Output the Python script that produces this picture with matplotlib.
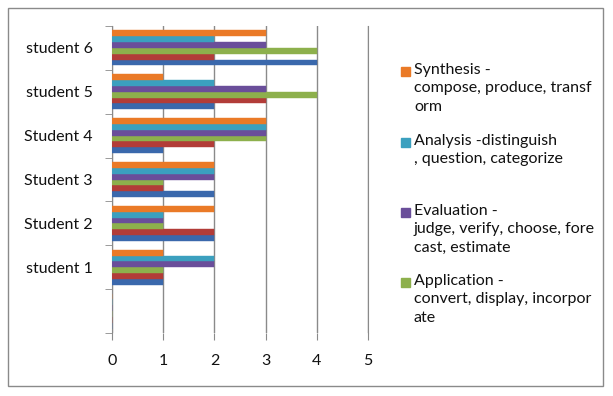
import matplotlib
matplotlib.use("Agg")
import matplotlib.pyplot as plt
from matplotlib.patches import Rectangle
import numpy as np

plt.rcParams['font.family'] = ['Lato', 'DejaVu Sans']

categories = ["", "student 1", "Student 2", "Student 3", "Student 4", "student 5", "student 6"]
series_names = ["Knowledge", "Comprehension", "Application", "Evaluation", "Analysis", "Synthesis"]
blue_vals   = [0, 1, 2, 2, 1, 2, 4]
red_vals    = [0, 1, 2, 1, 2, 3, 2]
green_vals  = [0, 1, 1, 1, 3, 4, 4]
purple_vals = [0, 2, 1, 2, 3, 3, 3]
teal_vals   = [0, 2, 1, 2, 3, 2, 2]
orange_vals = [0, 1, 2, 2, 3, 1, 3]
x_ticks = [0, 1, 2, 3, 4, 5]

legend_labels = [
    "Synthesis -\ncompose, produce, transf\norm",
    "Analysis -distinguish\n, question, categorize",
    "Evaluation -\njudge, verify, choose, fore\ncast, estimate",
    "Application -\nconvert, display, incorpor\nate",
]
legend_colors = ["#EA7A27", "#3BA0BF", "#6A4E9A", "#8DB04C"]

series = [blue_vals, red_vals, green_vals, purple_vals, teal_vals, orange_vals]
colors = ["#3A68AC", "#B23C38", "#8DB04C", "#6A4E9A", "#3BA0BF", "#EA7A27"]

fig = plt.figure(figsize=(6.13, 3.96), dpi=100)
fig.patch.set_facecolor("white")
fig.add_artist(Rectangle((8/613, 1-386/396), 595/613, 378/396, transform=fig.transFigure,
                         fill=False, edgecolor="#8a8a8a", linewidth=1))

ax = fig.add_axes([112/613, 1-333/396, 256/613, 307/396])
y = np.arange(len(categories))
h = 0.133
n = len(series)
for i, (vals, c) in enumerate(zip(series, colors)):
    offs = (i - (n - 1) / 2) * h
    ax.barh(y + offs, vals, height=h, color=c, edgecolor=c, linewidth=0.3, zorder=3)

ax.set_xlim(0, 5)
ax.set_ylim(-0.5, len(categories) - 0.5)
ax.set_xticks(x_ticks)
ax.set_xticklabels([str(t) for t in x_ticks], fontsize=11.5, color="#111111")
ax.set_yticks(y)
ax.set_yticklabels(categories, fontsize=11.5, color="#111111")
ax.tick_params(axis='y', which='major', length=0, pad=14)
ax.set_yticks(np.arange(-0.5, len(categories), 1), minor=True)
ax.tick_params(axis='y', which='minor', length=5, color="#8a8a8a", direction='out')
ax.tick_params(axis='x', length=5, color="#8a8a8a", direction='out', pad=10)
ax.grid(axis='x', color="#8a8a8a", linewidth=1, zorder=0)
for s in ['top', 'bottom']:
    ax.spines[s].set_visible(False)
ax.spines['left'].set_color("#8a8a8a")
ax.spines['right'].set_color("#8a8a8a")

# legend
starts = [71, 142, 212, 282]
for lab, c, yy in zip(legend_labels, legend_colors, starts):
    fig.add_artist(Rectangle((401/613, 1-(yy+4.5)/396), 9/613, 9/396, transform=fig.transFigure,
                             facecolor=c, edgecolor=c))
    fig.text(414/613, 1-(yy-8)/396, lab, fontsize=11.5, va='top', ha='left', linespacing=1.4,
             color="#111111")

fig.savefig("out.png", dpi=100)
